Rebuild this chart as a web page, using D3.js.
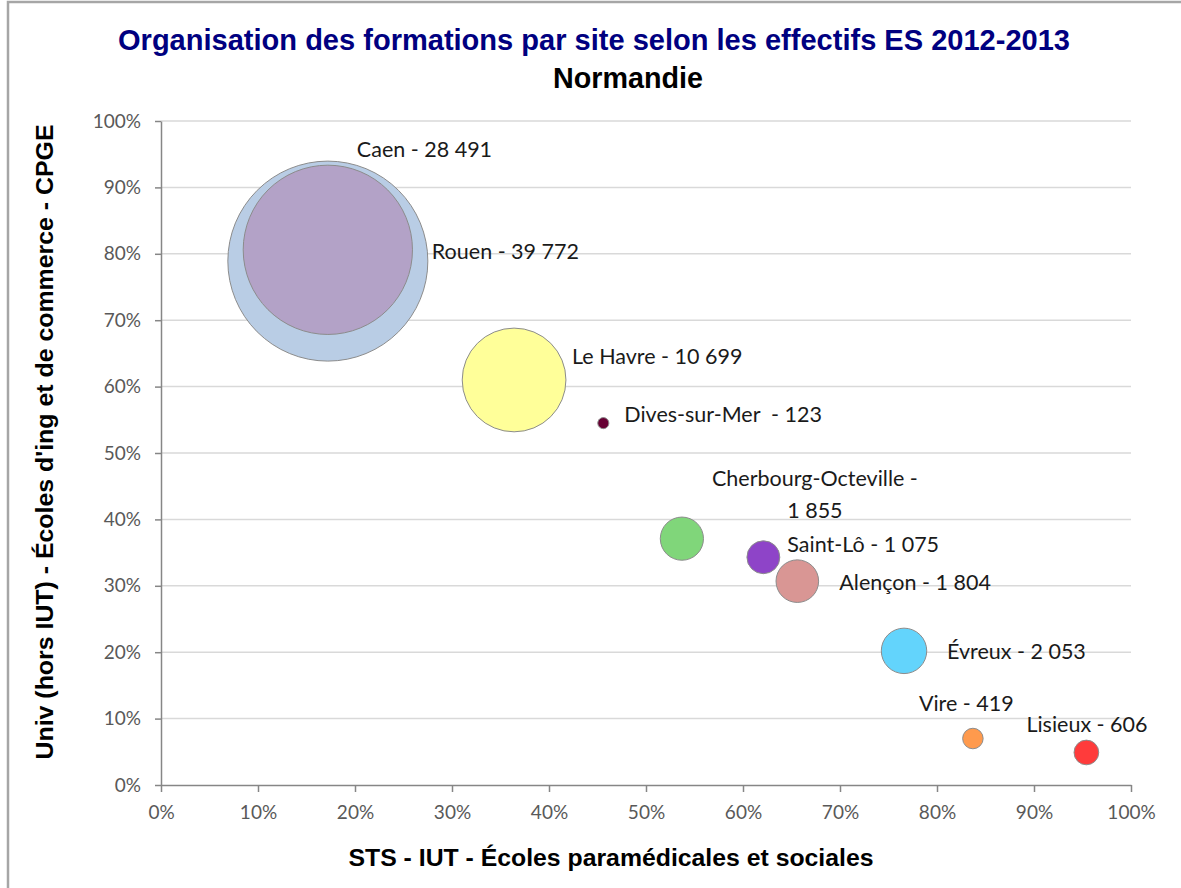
<!DOCTYPE html>
<html lang="fr">
<head>
  <meta charset="UTF-8">
  <title>Organisation des formations par site - Normandie</title>
  <script src="https://d3js.org/d3.v7.min.js"></script>
  <style>
    body { margin: 0; background: #fff; }
    .grid line { stroke: #d9d9d9; stroke-width: 1.5px; }
    .axis path, .axis line { stroke: #868686; stroke-width: 1.5px; }
    .axis text { font-family: Lato, "Open Sans", sans-serif; font-size: 19px; fill: #595959; }
    .bubble { stroke: #8c8c8c; stroke-width: 1px; }
    .label { font-family: Lato, "Open Sans", sans-serif; font-size: 21.5px; fill: #1a1a1a; }
    .title { font-family: "Liberation Sans", Arial, sans-serif; font-weight: bold; text-anchor: middle; }
    .axis-title { font-family: "Liberation Sans", Arial, sans-serif; font-weight: bold; font-size: 23px; text-anchor: middle; fill: #000; }
  </style>
</head>
<body>
  <div id="chart"></div>

  <script>
    // Data
    const sites = ["Rouen", "Caen", "Le Havre", "Dives-sur-Mer", "Cherbourg-Octeville",
                   "Saint-Lô", "Alençon", "Évreux", "Vire", "Lisieux"];
    const effectifs = [39772, 28491, 10699, 123, 1855, 1075, 1804, 2053, 419, 606];
    const shareSts = [0.172, 0.172, 0.364, 0.456, 0.537, 0.621, 0.656, 0.766, 0.837, 0.954];
    const shareUniv = [0.789, 0.806, 0.610, 0.545, 0.371, 0.343, 0.307, 0.202, 0.070, 0.049];
    const colors = ["#b9cde5", "#b3a2c7", "#ffff99", "#660033", "#80d67a",
                    "#8e44c8", "#d99694", "#63d4fc", "#ff9a4d", "#ff3b3b"];
    const tickValues = [0, 0.1, 0.2, 0.3, 0.4, 0.5, 0.6, 0.7, 0.8, 0.9, 1];

    // label placement relative to bubble centre (px), as in the original layout
    const labelOffsets = [[104, -10], [29, -100], [58, -23], [21, -9], [133, -60],
                          [24, -13], [42, 1], [43, 1], [-54, -35], [-60, -28]];

    const W = 1181, H = 888;
    const margin = { top: 121, right: 50, bottom: 103, left: 161 },
          width = W - margin.left - margin.right,
          height = H - margin.top - margin.bottom;

    const root = d3.select("#chart")
                   .append("svg")
                   .attr("width", W)
                   .attr("height", H);

    // chart frame
    root.append("rect")
        .attr("x", 8).attr("y", 2)
        .attr("width", W + 20).attr("height", H + 20)
        .attr("fill", "#fff")
        .attr("stroke", "#a6a6a6")
        .attr("stroke-width", 2.5);

    // titles (condensed like the original Arial Narrow)
    root.append("text")
        .attr("class", "title")
        .attr("x", 594).attr("y", 50)
        .attr("font-size", 30)
        .attr("fill", "#000080")
        .attr("textLength", 952)
        .attr("lengthAdjust", "spacingAndGlyphs")
        .text("Organisation des formations par site selon les effectifs ES 2012-2013");

    root.append("text")
        .attr("class", "title")
        .attr("x", 628).attr("y", 88)
        .attr("font-size", 30)
        .attr("fill", "#000")
        .attr("textLength", 150)
        .attr("lengthAdjust", "spacingAndGlyphs")
        .text("Normandie");

    const svg = root.append("g")
                    .attr("transform", `translate(${margin.left},${margin.top})`);

    const x = d3.scaleLinear().domain([0, 1]).range([0, width]);
    const y = d3.scaleLinear().domain([0, 1]).range([height, 0]);
    const r = d3.scaleSqrt().domain([0, d3.max(effectifs)]).range([0, 100]);

    // horizontal gridlines
    svg.append("g")
       .attr("class", "grid")
       .selectAll("line")
       .data(tickValues.slice(1))
       .enter()
       .append("line")
       .attr("x1", 0).attr("x2", width)
       .attr("y1", d => y(d)).attr("y2", d => y(d));

    const fmt = d3.format(".0%");

    // x axis
    svg.append("g")
       .attr("class", "axis")
       .attr("transform", `translate(0,${height})`)
       .call(d3.axisBottom(x).tickValues(tickValues).tickFormat(fmt).tickSize(7).tickSizeOuter(0).tickPadding(14));

    // y axis
    svg.append("g")
       .attr("class", "axis")
       .call(d3.axisLeft(y).tickValues(tickValues).tickFormat(fmt).tickSize(6).tickSizeOuter(0).tickPadding(14));

    // bubbles (largest drawn first)
    const data = sites.map((s, i) => ({
      site: s, n: effectifs[i], sx: shareSts[i], sy: shareUniv[i],
      color: colors[i], off: labelOffsets[i]
    }));

    svg.selectAll(".bubble")
       .data(data.slice().sort((a, b) => b.n - a.n))
       .enter()
       .append("circle")
       .attr("class", "bubble")
       .attr("cx", d => x(d.sx))
       .attr("cy", d => y(d.sy))
       .attr("r", d => r(d.n))
       .attr("fill", d => d.color);

    const nfmt = v => d3.format(",")(v).replace(",", "\u00a0");

    // data labels
    const labels = svg.selectAll(".label")
       .data(data)
       .enter()
       .append("text")
       .attr("class", "label")
       .attr("dy", "0.35em");

    labels.each(function(d) {
      const t = d3.select(this);
      const lx = x(d.sx) + d.off[0], ly = y(d.sy) + d.off[1];
      if (d.site === "Cherbourg-Octeville") {
        // two separate lines, like the wrapped Excel label
        t.attr("text-anchor", "middle").attr("x", lx).attr("y", ly).text(d.site + " -");
        svg.append("text")
           .attr("class", "label")
           .attr("dy", "0.35em")
           .attr("text-anchor", "middle")
           .attr("x", lx).attr("y", ly + 32)
           .text(nfmt(d.n));
      } else {
        const sep = d.site === "Dives-sur-Mer" ? "\u00a0\u00a0- " : " - ";
        t.attr("x", lx).attr("y", ly).text(d.site + sep + nfmt(d.n));
      }
    });

    // axis titles
    root.append("text")
        .attr("class", "axis-title")
        .attr("x", 611).attr("y", 866)
        .attr("textLength", 525)
        .attr("lengthAdjust", "spacingAndGlyphs")
        .text("STS - IUT - Écoles paramédicales et sociales");

    root.append("text")
        .attr("class", "axis-title")
        .attr("transform", "translate(53,442) rotate(-90)")
        .attr("textLength", 635)
        .attr("lengthAdjust", "spacingAndGlyphs")
        .text("Univ (hors IUT) - Écoles d'ing et de commerce - CPGE");
  </script>
</body>
</html>
